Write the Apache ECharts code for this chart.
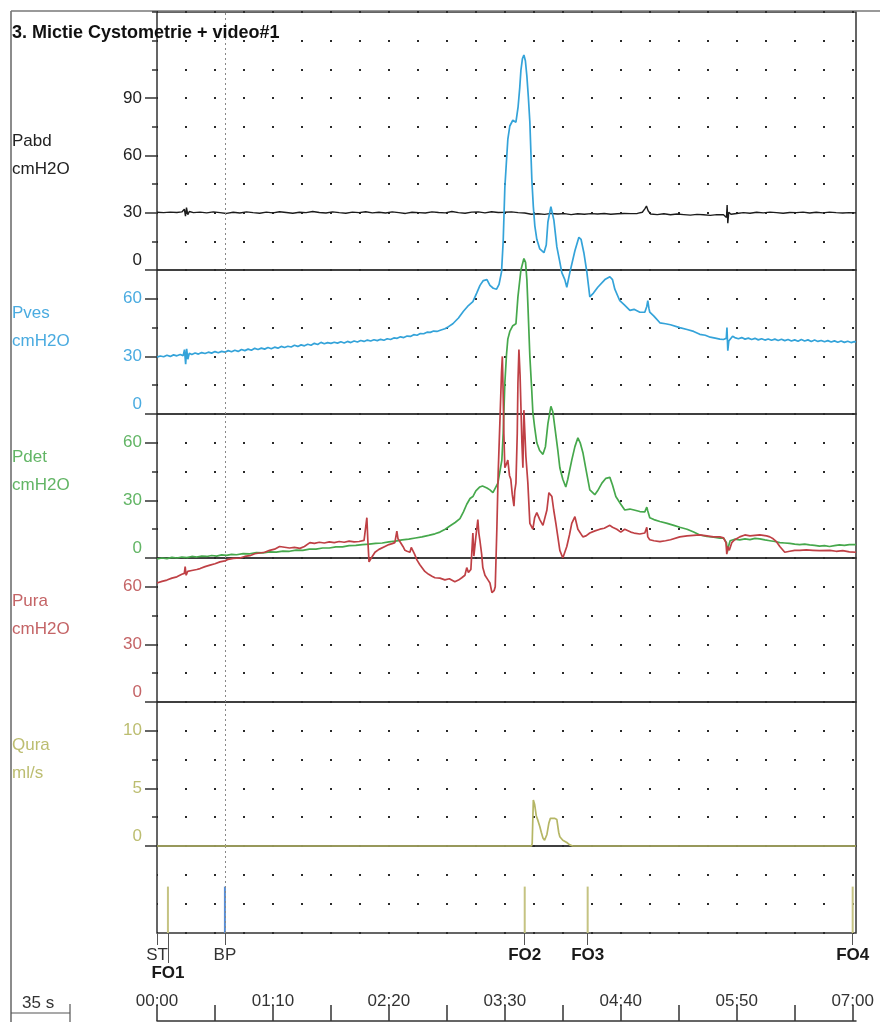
<!DOCTYPE html>
<html>
<head>
<meta charset="utf-8">
<script src="https://cdn.jsdelivr.net/npm/echarts@6/dist/echarts.min.js"></script>
<style>
  html, body { margin: 0; padding: 0; background: #fff; }
  #chart { width: 880px; height: 1022px; }
</style>
</head>
<body>
<div id="chart"></div>
<script>
const FONT = '"Liberation Sans", Arial, sans-serif';
const T_MAX = 422; // seconds shown on the time axis

// ---- channels ----
const panelNames = ['Pabd', 'Pves', 'Pdet', 'Pura', 'Qura'];
const panelUnits = ['cmH2O', 'cmH2O', 'cmH2O', 'cmH2O', 'ml/s'];
const panelMax = [135, 75, 75, 75, 12.5];
const panelStep = [15, 15, 15, 15, 2.5];
const panelLabelValues = [[0, 30, 60, 90], [0, 30, 60], [0, 30, 60], [0, 30, 60], [0, 5, 10]];
const panelLineColors = ['#1c1c1c', '#34a3d9', '#46a84c', '#bf4045', '#b5b665'];
const panelTextColors = ['#222222', '#4aabe0', '#62b565', '#c46466', '#bcbd70'];

// ---- events ----
const eventNames = ['ST', 'FO1', 'BP', 'FO2', 'FO3', 'FO4'];
const eventTimes = [0, 6.6, 41, 222, 260, 420];
const eventBold = [false, true, false, true, true, true];
const eventRow = [0, 1, 0, 0, 0, 0];
const eventColors = [null, '#c5c382', '#5a8fd6', '#c5c382', '#c5c382', '#c5c382'];

// ---- time axis ----
const timeTickValues = [0, 35, 70, 105, 140, 175, 210, 245, 280, 315, 350, 385, 420];
const timeLabelValues = [0, 70, 140, 210, 280, 350, 420];
const timeLabels = ['00:00', '01:10', '02:20', '03:30', '04:40', '05:50', '07:00'];

// ---- signals: [time s, value] ----
const pabd = [[0,30.2],[4,30.0],[8,30.3],[12,30.1],[15,30.4],[16.5,31.8],[17.2,28.2],[17.8,32.6],[18.6,29.0],[19.5,30.6],[22,30.0],[26,30.3],[30,29.9],[34,30.4],[38,30.0],[42,29.6],[46,30.2],[50,29.8],[54,30.4],[58,30.0],[62,29.7],[66,30.3],[70,29.9],[74,30.5],[78,30.1],[82,29.7],[86,30.2],[90,30.0],[94,30.6],[98,30.1],[102,29.8],[106,30.4],[110,30.0],[114,29.7],[118,30.3],[122,30.0],[126,30.5],[130,29.9],[134,30.2],[138,29.8],[142,30.4],[146,30.0],[150,29.6],[154,30.2],[158,30.0],[162,29.8],[166,30.4],[170,30.1],[174,29.9],[178,30.6],[182,30.0],[186,29.7],[190,30.3],[194,30.4],[198,29.9],[202,30.5],[206,30.1],[210,30.2],[214,30.4],[218,30.0],[222,29.8],[226,29.2],[230,29.4],[234,29.1],[238,29.6],[242,29.3],[246,29.5],[250,29.0],[254,29.4],[258,29.2],[262,29.5],[266,29.3],[270,29.6],[274,29.2],[278,29.4],[282,29.6],[286,29.5],[290,29.6],[293,30.2],[294.5,32.0],[295.5,33.5],[296.5,31.0],[298,29.3],[302,29.0],[306,29.4],[310,28.9],[314,29.3],[318,29.0],[322,28.7],[326,29.1],[330,28.9],[334,28.6],[338,29.0],[342,28.9],[343.8,27.5],[344.2,34.0],[344.6,24.5],[345.2,30.2],[346.5,29.2],[350,29.6],[354,30.0],[358,29.7],[362,30.2],[366,29.9],[370,30.3],[374,30.0],[378,29.7],[382,30.1],[386,30.0],[390,30.3],[394,29.8],[398,30.2],[402,29.9],[406,30.3],[410,30.0],[414,29.8],[418,30.0],[422,29.9]];

const pves = [[0,29.6],[2,30.2],[4,29.8],[6,30.6],[8,30.0],[10,30.8],[12,30.3],[14,31.0],[15.8,30.4],[16.6,33.5],[17.3,26.0],[17.9,34.0],[18.6,28.5],[19.5,31.6],[21,31.0],[23,31.8],[25,31.2],[27,32.0],[29,31.5],[31,32.2],[33,31.7],[35,32.5],[37,31.9],[39,32.6],[41,32.2],[43,33.0],[45,32.4],[47,33.2],[49,32.6],[51,33.6],[53,33.0],[55,33.8],[57,33.2],[59,34.2],[61,33.6],[63,34.3],[65,33.8],[67,34.6],[69,34.0],[71,34.8],[73,34.3],[75,35.2],[77,34.6],[79,35.3],[81,34.9],[83,35.8],[85,35.2],[87,36.0],[89,35.5],[91,36.3],[93,35.8],[95,36.8],[97,36.2],[99,37.3],[101,36.6],[103,37.2],[105,36.8],[107,37.4],[109,36.9],[111,37.6],[113,37.0],[115,37.8],[117,37.2],[119,38.0],[121,37.5],[123,38.3],[125,37.8],[127,38.5],[129,38.0],[131,38.7],[133,38.2],[135,38.9],[137,38.4],[139,39.2],[141,38.8],[143,39.6],[145,39.4],[147,40.2],[149,39.8],[151,40.6],[153,40.4],[155,41.3],[157,41.0],[159,41.9],[161,41.8],[163,42.6],[165,42.5],[167,43.2],[169,43.0],[171,43.6],[173.8,44.4],[176,45.5],[178.6,47],[182,50],[185,53.5],[188,56.5],[190.7,58.5],[193,63],[195,67],[197,69.5],[199.2,70],[201,67],[203,65.5],[205,65],[206.5,67.5],[208,74],[209,90],[210,118],[211,132],[211.8,143],[213,150],[214.8,153],[216.7,152],[218,160],[219,170],[219.7,179],[220.6,185],[221.5,187],[222.4,184],[223.3,176],[224.2,165],[225.1,152],[226.3,122],[227.2,108],[228.1,98],[229.3,91],[231.1,86],[233.6,84],[235,88],[236,100],[237.8,108],[239.6,101],[241.4,87],[243,80],[244.4,73.6],[246.2,70],[247.4,66],[249.2,73.5],[252.3,85],[254.7,92],[256,91],[257.7,84],[259.5,74],[261.3,61],[263.5,63],[266.1,66],[270.4,70],[273.4,71.5],[275,70],[276.4,65],[279.4,59],[282,57],[285.5,54],[288,54.5],[291.5,53],[294.5,53],[295.7,56],[296.3,59],[297,55],[297.5,53],[300,51],[303.6,47.5],[307,47],[310,46.5],[315.6,45],[320,44],[324,43],[327.7,41.5],[331,41],[334,40],[337,39.5],[339.8,39.0],[342,38.8],[343.7,39.5],[344.1,45],[344.6,33],[345.2,38],[346,37.6],[347.5,40.5],[348.8,39.8],[351,39.2],[353,39.8],[355,39.0],[357,39.5],[359,38.8],[361,39.4],[363,38.6],[365,39.2],[367,38.5],[369,39.1],[371,38.4],[373,39.0],[375,38.3],[377,38.9],[379,38.2],[381,38.8],[383,38.0],[385,38.6],[387,37.9],[389,38.8],[391,38.0],[393,38.6],[395,37.8],[397,38.5],[399,37.8],[401,38.3],[403,37.6],[405,38.2],[407,37.5],[409,38.1],[411,37.4],[413,38.0],[415,37.3],[417,37.9],[419,37.2],[421,37.7],[422,37.5]];

const pdet = [[0,-0.5],[3,0],[6,-0.3],[9,0.3],[12,0],[15,0.5],[18,0.2],[21,0.8],[24,0.5],[27,1.0],[30,0.8],[33,1.3],[36,1.0],[39,1.6],[42,1.4],[45,1.9],[48,1.7],[52,2.3],[56,2.2],[60,2.8],[64,2.7],[68,3.2],[72,3.1],[76,3.6],[80,3.5],[84,4.1],[88,4.0],[92,4.6],[96,4.6],[100,5.2],[104,5.2],[108,5.8],[112,5.8],[116,6.4],[120,6.6],[124,7.0],[128,7.2],[132,7.6],[136,7.8],[140,8.4],[144,8.8],[148,9.4],[152,9.8],[156,10.4],[160,11.0],[164,11.8],[167.8,12.6],[170.8,13.5],[174,15],[177,16.8],[180,18.5],[182.9,20.5],[185,24],[187,28],[189,31],[190.7,32],[192.5,35],[194.9,37],[196.5,37.5],[199.2,36.5],[201,35.5],[202.8,34],[204,34.5],[205.8,39],[207,45],[208.2,51],[209,65],[210,91],[211,106],[211.8,114],[213,118],[214.8,121],[216.7,122],[217.9,136],[219.7,150],[221.5,156],[222.5,154],[223.3,145],[224,130],[225.1,105],[226.2,88],[226.9,76],[228,68],[229.3,60],[231,56],[233,54],[234.5,58],[236,70],[237.8,79],[239,76],[240.2,68],[242,56],[243.2,47],[245,41],[246.8,37],[248,41],[250.4,51],[252.3,58],[254.1,62.6],[255.5,60],[257.1,55],[259,46],[261.3,35.5],[264.3,33],[266,35],[268.6,39],[271,41.5],[273.4,42],[275,38],[277,32],[280,28],[282.4,25],[285.5,25.5],[288,25],[291.5,24.2],[294.5,24],[295.7,26.5],[296.3,24.5],[297.5,21],[300,20],[303.6,19],[308,18],[312,17],[315.6,16],[320,15],[324,13.5],[327.7,12],[332,11.2],[336,10.8],[339.8,10.4],[342,10.4],[343.8,8],[344.3,3],[345,6],[346,9],[348.8,9.8],[351.8,9.4],[355,10],[358,9.6],[361,10.2],[363.9,10],[367,9.4],[370,9.0],[373,8.6],[376,8],[379,7.8],[382,7.6],[385,7.2],[388,7],[391,7.2],[394,6.8],[397,6.6],[400,6.2],[403,6.4],[406,6],[409,6.4],[412,6.8],[415,6.6],[418,7],[422,7]];

const pura = [[0,62],[3,62.8],[6,63.5],[9,64.5],[12,65.2],[15,66.5],[16.5,67],[17,70.5],[17.6,66],[18.5,68],[21,68.5],[24,69],[26,69.5],[29,70.5],[32,71.3],[35,72],[38,73],[41,73.5],[43,74.3],[46,74.8],[50,75],[53,75.8],[56,76.2],[59,77.2],[62,77.6],[65,78],[68,79],[71,79.6],[74,81],[77,80.6],[80,80.2],[83,80.5],[86.3,80],[89,81],[92.3,83],[95,82.6],[98,83.2],[101,82.8],[104,83.4],[107,83],[110,83.6],[113,83.2],[116,83.8],[119,83.4],[122,83.6],[125,84.2],[126.2,85],[126.7,96],[127.3,84],[128,73],[129,74.5],[131.6,78],[134,79.5],[137.6,81],[140,82],[142,82.5],[143.6,83],[144.2,86],[144.8,89],[145.5,85],[146.7,83.5],[148.5,81],[149.7,79],[151,78.5],[152.7,78],[153.5,80.5],[154.5,80],[155.5,77],[156.9,74],[158.7,71.5],[161.7,68],[164,66.5],[166,65.5],[167.8,64.7],[170.8,64.5],[173.8,63.6],[176.5,64.2],[179.8,62.6],[182,63.5],[184,64.7],[185.9,66],[187,70],[188,67.5],[189.5,69],[190.7,88],[191.3,76],[192.5,86],[193.7,95],[194.3,88],[194.9,84.5],[196,77],[196.7,70],[198,66],[199.8,63.6],[201,62],[202.2,57],[203.5,58],[204.2,60],[205.2,91],[206,120],[207,145.5],[208,172],[208.5,180],[209,160],[209.4,140],[210,122],[211,124],[211.8,126],[212.8,118],[213.6,116],[214.5,108],[215.5,102],[216,110],[216.7,114],[217.5,140],[217.9,166],[218.5,183.6],[219.2,170],[219.7,154],[220.3,135],[220.9,122],[221.5,152],[222.1,140],[222.7,128],[223.9,114],[225.1,93],[226.9,90],[228,96],[229.3,98.6],[231.1,95],[233,92],[234.2,91],[235.4,100],[236.6,109],[238.4,107],[239.5,100],[240.8,93],[242,86],[243.2,79],[245,75],[246,76],[247.4,81],[249,87],[250.4,93],[252.3,96.5],[254.1,90],[257.1,86],[259,86.5],[261.3,88],[264,89],[267.4,90],[270,90.5],[273.4,92],[275,91],[277.6,90],[280,88.5],[282.4,90],[283.6,89],[286,88.5],[288,88],[291.5,87.5],[294.5,88],[295.7,91],[296.3,86],[297.5,84.5],[300,84],[303.6,83.5],[307,84],[310,84.5],[315.6,86],[320,86.5],[327.7,87],[332,86.5],[336,86],[339.8,86],[342,85.5],[343.5,83],[344,77],[344.6,81],[345.5,79],[347,83],[348.8,84.5],[351.8,86],[354.9,87],[358,86.5],[363.9,87],[368,86.5],[370,86],[372,85],[374,83.5],[376,81],[379,78],[382,78.5],[385,79],[388,79],[392,79.2],[396,79],[400,78.8],[406.2,79],[410,78.5],[414,78.8],[418,78.2],[422,78]];

const qura = [[0,0],[226,0],[226.5,0.2],[227.2,4.0],[228,3.6],[229,2.6],[230,2.2],[231.1,1.7],[232,1.2],[233,0.7],[234,0.5],[235.4,1.0],[236.6,2.0],[237.5,2.4],[240,2.4],[241.4,2.3],[242.5,1.2],[243.2,0.8],[245,0.5],[247.4,0.3],[249.2,0.1],[251,0],[422,0]];

const signals = [pabd, pves, pdet, pura, qura];

// ---- layout ----
const GL = 157, GW = 699;
const gridTops = [12, 270, 414, 558, 702, 846];
const gridHeights = [258, 144, 144, 144, 144, 87];

const grid = gridTops.map((t, i) => ({
  left: GL, width: GW, top: t, height: gridHeights[i],
  show: true, borderColor: '#333', borderWidth: 1.5, backgroundColor: 'transparent',
  containLabel: false, outerBoundsMode: 'none'
}));

// dotted grid: 2px dots every 17.5 s across, at every y step
const dotLine = { show: true, lineStyle: { color: '#2a2a2a', width: 2, type: [2, 27], dashOffset: 1 } };

const xAxis = gridTops.map((_, i) => ({
  gridIndex: i, type: 'value', min: 0, max: T_MAX,
  axisLine: { show: false, onZero: false }, axisTick: { show: false },
  axisLabel: { show: false }, splitLine: { show: false }
}));

function eventLabel(v) {
  const i = eventTimes.indexOf(v);
  if (i < 0) return '';
  return eventBold[i] ? '{b|' + eventNames[i] + '}' : '{n|' + eventNames[i] + '}';
}
const eventRich = {
  b: { fontFamily: FONT, fontSize: 17, fontWeight: 'bold', color: '#1a1a1a' },
  n: { fontFamily: FONT, fontSize: 17, color: '#333' }
};
[0, 1].forEach(row => {
  const vals = eventTimes.filter((t, i) => eventRow[i] === row);
  xAxis.push({
    gridIndex: 5, type: 'value', min: 0, max: T_MAX, position: 'bottom',
    axisLine: { show: false, onZero: false },
    axisTick: { show: true, length: row === 0 ? 12 : 30, customValues: vals, lineStyle: { color: '#555', width: 1 } },
    axisLabel: { show: true, customValues: vals, margin: row === 0 ? 14 : 32, formatter: eventLabel, rich: eventRich, showMinLabel: true, showMaxLabel: true, hideOverlap: false },
    splitLine: { show: false }
  });
});
// running time axis
xAxis.push({
  gridIndex: 5, type: 'value', min: 0, max: T_MAX, position: 'bottom', offset: 88,
  axisLine: { show: true, onZero: false, lineStyle: { color: '#333', width: 1.5 } },
  axisTick: { show: true, inside: true, length: 16, customValues: timeTickValues, lineStyle: { color: '#333', width: 1.5 } },
  axisLabel: { show: true, inside: true, margin: 11, customValues: timeLabelValues,
    formatter: v => timeLabels[timeLabelValues.indexOf(v)] || '',
    color: '#333', fontFamily: FONT, fontSize: 17, showMinLabel: true, showMaxLabel: true, hideOverlap: false },
  splitLine: { show: false }
});

const yAxis = [];
panelNames.forEach((n, i) => {
  const color = panelTextColors[i];
  yAxis.push({
    gridIndex: i, type: 'value', position: 'left', min: 0, max: panelMax[i], interval: panelStep[i],
    axisLine: { show: false },
    axisTick: { show: true, length: 5, lineStyle: { color: '#333', width: 1.5 } },
    axisLabel: {
      show: true, customValues: panelLabelValues[i], margin: 15, color, fontFamily: FONT, fontSize: 17,
      showMinLabel: true, hideOverlap: false,
      formatter: v => (v === 0 ? '{z|0}' : String(v)),
      rich: { z: { padding: [0, 0, 20, 0], color, fontFamily: FONT, fontSize: 17 } }
    },
    splitLine: dotLine
  });
  yAxis.push({
    gridIndex: i, type: 'value', position: 'left', offset: 0, min: 0, max: panelMax[i], interval: panelStep[i],
    axisLine: { show: false }, axisLabel: { show: false }, splitLine: { show: false },
    axisTick: { show: true, length: 12, customValues: panelLabelValues[i], lineStyle: { color: '#333', width: 1.5 } }
  });
});
yAxis.push({
  gridIndex: 5, type: 'value', position: 'left', min: 0, max: 3, interval: 1,
  axisLine: { show: false }, axisTick: { show: false }, axisLabel: { show: false },
  splitLine: dotLine
});

// dotted marker through every panel at the BP event
const bpMarker = {
  silent: true, symbol: ['none', 'none'], label: { show: false },
  lineStyle: { color: '#888', width: 1, type: [2, 3] },
  emphasis: { disabled: true },
  data: [{ xAxis: eventTimes[eventNames.indexOf('BP')] }]
};

const series = signals.map((d, i) => ({
  type: 'line', name: panelNames[i], xAxisIndex: i, yAxisIndex: 2 * i,
  data: d, showSymbol: false, symbol: 'none', clip: false, smooth: false,
  lineStyle: { color: panelLineColors[i], width: i === 0 ? 1.4 : 1.7 },
  emphasis: { disabled: true }, z: 3 + i,
  markLine: bpMarker
}));

series.push({
  type: 'bar', name: 'events', xAxisIndex: 5, yAxisIndex: 10, barWidth: 2,
  data: eventTimes.map((t, i) => eventColors[i] ? { value: [t, 1.6], itemStyle: { color: eventColors[i] } } : null).filter(Boolean),
  emphasis: { disabled: true }, z: 4,
  markLine: bpMarker
});

// channel names and units on the left
const graphic = [];
panelNames.forEach((n, i) => {
  const y0 = gridTops[i] + (i === 0 ? 129 : 43);
  [n, panelUnits[i]].forEach((txt, k) => {
    graphic.push({
      type: 'text', x: 12, y: y0 + k * 28,
      style: { text: txt, fill: panelTextColors[i], font: '17px ' + FONT, verticalAlign: 'middle', align: 'left' }
    });
  });
});
graphic.push(
  { type: 'text', x: 12, y: 33, z: 10,
    style: { text: '3. Mictie Cystometrie + video#1', fill: '#111', font: 'bold 18px ' + FONT, verticalAlign: 'middle', align: 'left' } },
  { type: 'line', shape: { x1: 11, y1: 11, x2: 11, y2: 1022 }, style: { stroke: '#666', lineWidth: 1.5 } },
  { type: 'line', shape: { x1: 11, y1: 11, x2: 880, y2: 11 }, style: { stroke: '#777', lineWidth: 1.5 } },
  { type: 'text', x: 22, y: 1003, style: { text: '35 s', fill: '#333', font: '17px ' + FONT, verticalAlign: 'middle', align: 'left' } },
  { type: 'polyline', shape: { points: [[11, 1013], [70, 1013]] }, style: { stroke: '#555', lineWidth: 1.2 } },
  { type: 'line', shape: { x1: 70, y1: 1004, x2: 70, y2: 1022 }, style: { stroke: '#555', lineWidth: 1.2 } }
);

const chart = echarts.init(document.getElementById('chart'), null, { renderer: 'canvas' });
chart.setOption({
  animation: false,
  backgroundColor: '#ffffff',
  textStyle: { fontFamily: FONT },
  grid, xAxis, yAxis, series, graphic
});
</script>
</body>
</html>
